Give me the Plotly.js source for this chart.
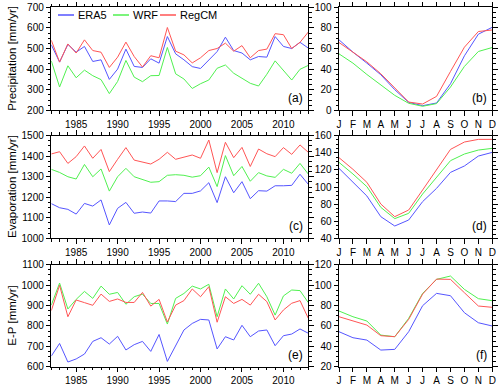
<!DOCTYPE html>
<html>
<head>
<meta charset="utf-8">
<script src="https://cdn.plot.ly/plotly-3.0.1.min.js"></script>
<style>
  body { margin: 0; background: white; }
  #chart { width: 500px; height: 390px; }
</style>
</head>
<body>
<div id="chart"></div>
<script>
// annual values 1982-2013
const years = [1982, 1983, 1984, 1985, 1986, 1987, 1988, 1989, 1990, 1991,
  1992, 1993, 1994, 1995, 1996, 1997, 1998, 1999, 2000, 2001, 2002, 2003,
  2004, 2005, 2006, 2007, 2008, 2009, 2010, 2011, 2012, 2013];

const precipERA5 = [518, 434, 520, 482, 510, 437, 445, 350, 400, 497, 413, 408, 450, 429, 558, 474,
  445, 412, 403, 442, 485, 555, 490, 478, 445, 461, 458, 558, 510, 500, 530, 502];
const precipWRF = [440, 313, 416, 358, 395, 368, 349, 281, 340, 442, 361, 339, 368, 369, 505, 377,
  352, 306, 329, 347, 404, 420, 380, 355, 331, 318, 375, 440, 392, 347, 399, 418];
const precipRegCM = [540, 434, 522, 478, 542, 490, 482, 408, 458, 531, 461, 410, 465, 455, 602, 487,
  469, 430, 455, 490, 500, 526, 487, 514, 455, 490, 497, 572, 567, 500, 530, 580];

const evapERA5 = [1169, 1149, 1141, 1118, 1170, 1157, 1187, 1065, 1146, 1175, 1122, 1128, 1123, 1182, 1182, 1179,
  1219, 1219, 1231, 1271, 1174, 1300, 1222, 1276, 1193, 1232, 1230, 1256, 1256, 1258, 1312, 1263];
const evapWRF = [1336, 1321, 1300, 1289, 1360, 1300, 1338, 1230, 1300, 1341, 1300, 1287, 1273, 1276, 1307, 1310,
  1307, 1298, 1305, 1347, 1252, 1403, 1305, 1350, 1278, 1320, 1304, 1297, 1336, 1317, 1365, 1313];
const evapRegCM = [1411, 1422, 1365, 1398, 1450, 1390, 1433, 1325, 1385, 1442, 1381, 1370, 1362, 1385, 1419, 1385,
  1396, 1406, 1390, 1479, 1320, 1468, 1393, 1443, 1350, 1435, 1412, 1398, 1442, 1409, 1455, 1419];

const epERA5 = [652, 714, 623, 638, 662, 724, 742, 711, 749, 682, 708, 724, 675, 758, 626, 706,
  780, 812, 832, 829, 687, 747, 731, 803, 747, 775, 780, 703, 752, 760, 785, 764];
const epWRF = [902, 1010, 883, 930, 969, 935, 995, 955, 964, 906, 943, 956, 910, 910, 809, 935,
  959, 995, 981, 1004, 845, 981, 932, 997, 955, 1009, 943, 853, 947, 976, 973, 914];
const epRegCM = [875, 999, 845, 927, 914, 901, 956, 920, 932, 915, 915, 964, 897, 930, 819, 902,
  924, 981, 943, 992, 818, 943, 910, 930, 902, 955, 919, 829, 878, 911, 924, 837];

// monthly climatology
const months = [1, 2, 3, 4, 5, 6, 7, 8, 9, 10, 11, 12];
const monthLabels = ["J", "F", "M", "A", "M", "J", "J", "A", "S", "O", "N", "D"];

const precipMonERA5 = [68.4, 56.5, 45.8, 34.5, 20, 7.7, 4.5, 7.1, 25.8, 52.9, 73.9, 80.6];
const precipMonWRF = [54.8, 45.8, 34.8, 24.8, 14.5, 6.8, 3.9, 6.5, 22.6, 42.6, 57.1, 61];
const precipMonRegCM = [65.8, 56.5, 47, 35.5, 21.3, 8, 6.1, 13.5, 37.7, 61.3, 76.5, 78];

const evapMonERA5 = [121.8, 105.5, 89.5, 65.3, 54.4, 61.4, 82.9, 98.4, 117.1, 124.6, 136.2, 140.5];
const evapMonWRF = [128.8, 115.2, 100.4, 76.2, 63, 69.2, 91.8, 111.3, 130.8, 138.6, 143.2, 145.2];
const evapMonRegCM = [134.3, 120.7, 105.5, 80.1, 65.3, 73.1, 96.5, 120.7, 144, 152.6, 155.7, 155.7];

const epMonERA5 = [54.3, 48.4, 46.1, 36.3, 37, 54.3, 79.8, 91.9, 89.6, 72.9, 63.1, 59.9];
const epMonWRF = [74.6, 69, 64.8, 51, 49.4, 67.4, 91.9, 105.6, 108.9, 95.8, 86.7, 84.7];
const epMonRegCM = [69, 65.1, 60.8, 50.4, 49.4, 66.4, 91.2, 105.9, 105.6, 92.5, 79.5, 78.2];

const names = ["ERA5", "WRF", "RegCM"];
const colors = ["rgb(85,85,255)", "rgb(80,240,80)", "rgb(255,85,85)"];
const rowTitles = ["Precipitation [mm/yr]", "Evaporation [mm/yr]", "E-P [mm/yr]"];

const panels = [
  {label: "(a)", row: 0, col: 0, series: [precipERA5, precipWRF, precipRegCM], yrange: [200, 700], dtick: 100},
  {label: "(b)", row: 0, col: 1, series: [precipMonERA5, precipMonWRF, precipMonRegCM], yrange: [0, 100], dtick: 20},
  {label: "(c)", row: 1, col: 0, series: [evapERA5, evapWRF, evapRegCM], yrange: [1000, 1500], dtick: 100},
  {label: "(d)", row: 1, col: 1, series: [evapMonERA5, evapMonWRF, evapMonRegCM], yrange: [40, 160], dtick: 20},
  {label: "(e)", row: 2, col: 0, series: [epERA5, epWRF, epRegCM], yrange: [600, 1100], dtick: 100},
  {label: "(f)", row: 2, col: 1, series: [epMonERA5, epMonWRF, epMonRegCM], yrange: [20, 120], dtick: 20}
];

const W = 500, H = 390;
const colX = [[51.3 / W, 308.3 / W], [339 / W, 492.3 / W]];
const rowY = [[1 - 110.3 / H, 1 - 7.3 / H], [1 - 238.3 / H, 1 - 135.7 / H], [1 - 366.7 / H, 1 - 264.7 / H]];

const axisBase = {
  showline: true, linecolor: "black", linewidth: 1, mirror: "ticks",
  ticks: "outside", ticklen: 4.5, tickwidth: 1, tickcolor: "black",
  showgrid: false, zeroline: false, fixedrange: true,
  tickfont: {size: 10, color: "black"}
};

const data = [];
const layout = {
  width: W, height: H,
  margin: {l: 0, r: 0, t: 0, b: 0},
  paper_bgcolor: "white", plot_bgcolor: "white",
  font: {family: "Liberation Sans, Arial, sans-serif", color: "black"},
  showlegend: false,
  annotations: [],
  shapes: []
};

panels.forEach((p, i) => {
  const n = i + 1;
  const xa = "xaxis" + (n === 1 ? "" : n);
  const ya = "yaxis" + (n === 1 ? "" : n);
  const annual = p.col === 0;
  const xs = annual ? years : months;

  p.series.forEach((vals, k) => {
    data.push({
      x: xs, y: vals, type: "scatter", mode: "lines", name: names[k],
      xaxis: "x" + (n === 1 ? "" : n), yaxis: "y" + (n === 1 ? "" : n),
      line: {color: colors[k], width: 1}
    });
  });

  layout[xa] = Object.assign({}, axisBase, {
    domain: colX[p.col],
    anchor: "y" + (n === 1 ? "" : n),
    range: annual ? [1982, 2013] : [1, 12]
  }, annual ? {
    tickmode: "linear", tick0: 1985, dtick: 5,
    minor: {ticks: "outside", dtick: 1, ticklen: 2.5, tickcolor: "black", showgrid: false}
  } : {
    tickmode: "array", tickvals: months, ticktext: monthLabels
  });

  layout[ya] = Object.assign({}, axisBase, {
    domain: rowY[p.row],
    anchor: "x" + (n === 1 ? "" : n),
    range: p.yrange, tickmode: "linear", dtick: p.dtick,
    minor: {ticks: "outside", dtick: p.dtick / 4, ticklen: 2.5, tickcolor: "black", showgrid: false}
  });

  layout.annotations.push({
    xref: "paper", yref: "paper",
    x: colX[p.col][1] - 3 / W, y: rowY[p.row][0] + 3 / H,
    xanchor: "right", yanchor: "bottom", showarrow: false,
    text: p.label, font: {size: 12}
  });
});

rowTitles.forEach((t, r) => {
  layout.annotations.push({
    xref: "paper", yref: "paper",
    x: 12 / W, y: (rowY[r][0] + rowY[r][1]) / 2,
    xanchor: "center", yanchor: "middle", showarrow: false,
    textangle: -90, text: t, font: {size: 11.5}
  });
});

// legend drawn inside panel (a)
const legendX = [58, 113, 160];
const legendY = 1 - 15 / H;
names.forEach((nm, k) => {
  layout.shapes.push({
    type: "line", xref: "paper", yref: "paper",
    x0: legendX[k] / W, x1: (legendX[k] + 16) / W, y0: legendY, y1: legendY,
    line: {color: colors[k], width: 1.5}
  });
  layout.annotations.push({
    xref: "paper", yref: "paper",
    x: (legendX[k] + 18) / W, y: legendY,
    xanchor: "left", yanchor: "middle", showarrow: false,
    text: nm, font: {size: 11}
  });
});

Plotly.newPlot("chart", data, layout, {staticPlot: true});
</script>
</body>
</html>
